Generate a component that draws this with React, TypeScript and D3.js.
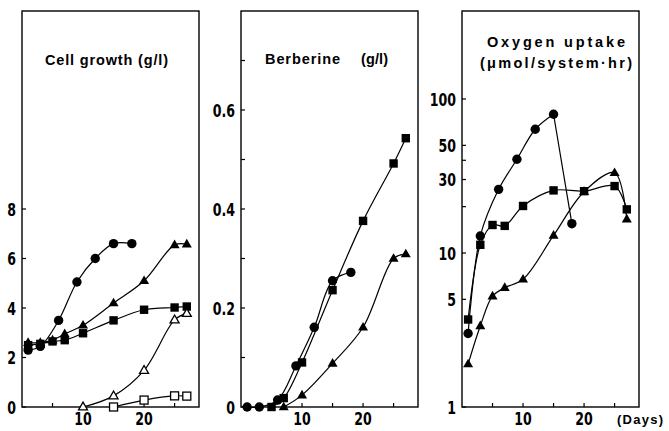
import React from 'react';
import * as d3 from 'd3';

// ---- data (days, value) ----
const growthCircle = [[1, 2.3], [3, 2.45], [6, 3.5], [9, 5.05], [12, 6.0], [15, 6.6], [18, 6.6]];
const growthTriangle = [[1, 2.6], [3, 2.6], [5, 2.7], [7, 2.95], [10, 3.3], [15, 4.2], [20, 5.1], [25, 6.55], [27, 6.58]];
const growthSquare = [[1, 2.5], [3, 2.55], [5, 2.65], [7, 2.7], [10, 2.98], [15, 3.5], [20, 3.93], [25, 4.02], [27, 4.06]];
const growthOpenTriangle = [[10, 0], [15, 0.45], [20, 1.48], [25, 3.52], [27, 3.78]];
const growthOpenSquare = [[15, 0], [20, 0.28], [25, 0.45], [27, 0.44]];

const berbCircle = [[1, 0], [3, 0], [6, 0.014], [9, 0.083], [12, 0.161], [15, 0.255], [18, 0.272]];
const berbSquare = [[5, 0], [7, 0.018], [10, 0.09], [15, 0.236], [20, 0.376], [25, 0.492], [27, 0.543]];
const berbTriangle = [[7, 0], [10, 0.024], [15, 0.088], [20, 0.161], [25, 0.3], [27, 0.309]];

const oxyCircle = [[1, 3.0], [3, 12.9], [6, 25.9], [9, 40.6], [12, 63.6], [15, 79.6], [18, 15.5]];
const oxySquare = [[1, 3.7], [3, 11.3], [5, 15.2], [7, 15.0], [10, 20.2], [15, 25.5], [20, 25.2], [25, 27.2], [27, 19.2]];
const oxyTriangle = [[1, 1.9], [3, 3.36], [5, 5.25], [7, 5.95], [10, 6.75], [15, 13.0], [20, 25.0], [25, 33.2], [27, 16.6]];

const xTicks = [5, 10, 15, 20, 25];
const xTickLabels = [10, 20];
const growthTicks = [0, 2, 4, 6, 8];
const berbTicks = [0, 0.1, 0.2, 0.3, 0.4, 0.5, 0.6, 0.7];
const berbLabels = [0, 0.2, 0.4, 0.6];
const oxyTicks = [1, 5, 10, 20, 30, 40, 50, 100];
const oxyLabels = [1, 5, 10, 30, 50, 100];

const W = 669;
const H = 431;
const TOP = 11;
const BOTTOM = 407;
const PW = 177;
const tickFont = '"DejaVu Sans", Arial, sans-serif';
const titleFont = '"Liberation Sans", Arial, sans-serif';

type Pt = number[];

// heavy condensed digits like the original print
const Num = ({ x, y, anchor, children }: any) => (
  <g transform={`translate(${x},${y}) scale(0.68,1)`}>
    <text textAnchor={anchor} fontFamily={tickFont} fontWeight="bold" fontSize={18.5}>
      {children}
    </text>
  </g>
);

const Marker = ({ kind, x, y }: { kind: string; x: number; y: number }) => {
  if (kind === 'circle') return <circle cx={x} cy={y} r={4.7} fill="#000" />;
  if (kind === 'square') return <rect x={x - 4.2} y={y - 4.2} width={8.4} height={8.4} fill="#000" />;
  if (kind === 'osquare')
    return <rect x={x - 4} y={y - 4} width={8} height={8} fill="#fff" stroke="#000" strokeWidth={1.3} />;
  const s = kind === 'triangle' ? 10 : 9;
  const h = (s * Math.sqrt(3)) / 2;
  const p = `M${x},${y - h * 0.62}L${x + s / 2},${y + h * 0.38}L${x - s / 2},${y + h * 0.38}Z`;
  if (kind === 'triangle') return <path d={p} fill="#000" />;
  return <path d={p} fill="#fff" stroke="#000" strokeWidth={1.3} />;
};

const Series = ({ data, kind, x, y, straightLast }: any) => {
  const line = d3
    .line<Pt>()
    .x((d) => x(d[0]))
    .y((d) => y(d[1]))
    .curve(d3.curveCatmullRom.alpha(0.5));
  const smooth = straightLast ? data.slice(0, data.length - 1) : data;
  const tail = straightLast ? data.slice(data.length - 2) : [];
  return (
    <g>
      <path d={line(smooth) || ''} fill="none" stroke="#000" strokeWidth={1.2} />
      {straightLast && (
        <path d={d3.line<Pt>().x((d) => x(d[0])).y((d) => y(d[1]))(tail) || ''} fill="none" stroke="#000" strokeWidth={1.2} />
      )}
      {data.map((d: Pt, i: number) => (
        <Marker key={i} kind={kind} x={x(d[0])} y={y(d[1])} />
      ))}
    </g>
  );
};

const Frame = ({ left, x, y, ticks, labels, fmt }: any) => (
  <g>
    <rect x={left} y={TOP} width={PW} height={BOTTOM - TOP} fill="none" stroke="#000" strokeWidth={1.4} />
    {xTicks.map((t) => (
      <line key={'x' + t} x1={x(t)} x2={x(t)} y1={BOTTOM} y2={BOTTOM - 4} stroke="#000" strokeWidth={1.2} />
    ))}
    {xTickLabels.map((t) => (
      <Num key={'xl' + t} x={x(t)} y={425} anchor="middle">
        {t}
      </Num>
    ))}
    {ticks.map((t: number) => (
      <line key={'y' + t} x1={left} x2={left + 4} y1={y(t)} y2={y(t)} stroke="#000" strokeWidth={1.2} />
    ))}
    {labels.map((t: number) => (
      <Num key={'yl' + t} x={left - 6} y={y(t) + 6.6} anchor="end">
        {fmt(t)}
      </Num>
    ))}
  </g>
);

export default function App() {
  const L1 = 22;
  const L2 = 241;
  const L3 = 462;
  const x1 = d3.scaleLinear().domain([0, 29]).range([L1, L1 + PW]);
  const x2 = d3.scaleLinear().domain([0, 29]).range([L2, L2 + PW]);
  const x3 = d3.scaleLinear().domain([0, 29]).range([L3, L3 + PW]);
  const y1 = d3.scaleLinear().domain([0, 16]).range([BOTTOM, TOP]);
  const y2 = d3.scaleLinear().domain([0, 0.8]).range([BOTTOM, TOP]);
  const y3 = d3.scaleLog().domain([1, Math.pow(10, (BOTTOM - TOP) / 154)]).range([BOTTOM, TOP]);

  const title = { fontFamily: titleFont, fontSize: 14.5, fontWeight: 'bold' as const, lengthAdjust: 'spacing' };

  return (
    <svg width={W} height={H} style={{ position: 'absolute', left: 0, top: 0, background: '#fff' }}>
      <rect width={W} height={H} fill="#fff" />

      {/* Cell growth */}
      <Frame left={L1} x={x1} y={y1} ticks={growthTicks} labels={growthTicks} fmt={(t: number) => String(t)} />
      <text x={45} y={65} {...title} textLength={123}>
        Cell growth (g/l)
      </text>
      <Series data={growthSquare} kind="square" x={x1} y={y1} />
      <Series data={growthTriangle} kind="triangle" x={x1} y={y1} />
      <Series data={growthCircle} kind="circle" x={x1} y={y1} />
      <Series data={growthOpenTriangle} kind="otriangle" x={x1} y={y1} />
      <Series data={growthOpenSquare} kind="osquare" x={x1} y={y1} />

      {/* Berberine */}
      <Frame
        left={L2}
        x={x2}
        y={y2}
        ticks={berbTicks}
        labels={berbLabels}
        fmt={(t: number) => (t === 0 ? '0' : t.toFixed(1))}
      />
      <text x={265} y={64} {...title} textLength={75}>
        Berberine
      </text>
      <text x={361} y={64} {...title} textLength={27}>
        (g/l)
      </text>
      <Series data={berbTriangle} kind="triangle" x={x2} y={y2} />
      <Series data={berbSquare} kind="square" x={x2} y={y2} />
      <Series data={berbCircle} kind="circle" x={x2} y={y2} />

      {/* Oxygen uptake */}
      <Frame left={L3} x={x3} y={y3} ticks={oxyTicks} labels={oxyLabels} fmt={(t: number) => String(t)} />
      <text x={487} y={47} {...title} textLength={138}>
        Oxygen uptake
      </text>
      <text x={480} y={68} {...title} textLength={152}>
        (μmol/system·hr)
      </text>
      <text x={617} y={424} {...title} fontSize={13} textLength={46}>
        (Days)
      </text>
      <Series data={oxyTriangle} kind="triangle" x={x3} y={y3} />
      <Series data={oxySquare} kind="square" x={x3} y={y3} />
      <Series data={oxyCircle} kind="circle" x={x3} y={y3} straightLast />
    </svg>
  );
}
